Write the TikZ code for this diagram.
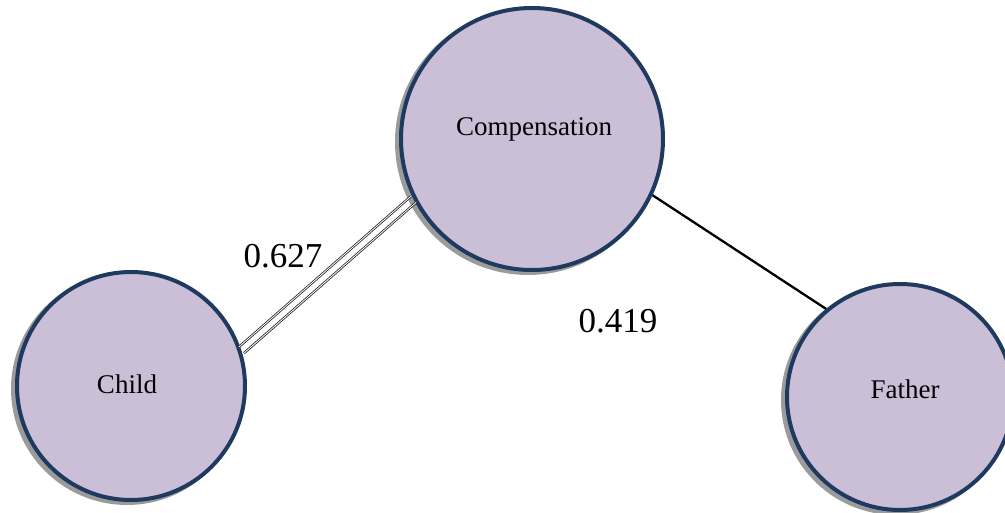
\documentclass[tikz,border=0pt]{standalone}
\usepackage{fontspec}
\setmainfont{Liberation Serif}
\usetikzlibrary{calc}
\definecolor{fillc}{RGB}{203,191,216}
\definecolor{edgec}{RGB}{31,58,95}
\definecolor{shadc}{RGB}{155,155,155}
\begin{document}
\begin{tikzpicture}[x=1pt,y=-1pt,
  var/.style={circle, draw=edgec, line width=4pt, fill=fillc, inner sep=0pt, minimum size=#1},
  shad/.style={circle, fill=shadc, inner sep=0pt, minimum size=#1},
  lbl/.style={font=\fontsize{27}{30}\selectfont, inner sep=0pt},
  num/.style={font=\fontsize{35}{38}\selectfont, inner sep=0pt},
  solidconn/.style={line width=2.3pt, black},
  strip/.style={draw=black!85, line width=0.8pt, double=white, double distance=0.8pt},
]
\useasboundingbox (0,0) rectangle (1005,513);
% shadows
\node[shad=266pt] (compS) at (528,142) {};
\node[shad=232pt] (childS) at (127,389) {};
\node[shad=230pt] (fatherS) at (896,400) {};
% circles
\node[var=262pt] (comp) at (532,139) {};
\node[var=228pt] (child) at (131,386) {};
\node[var=226pt] (father) at (900,397) {};
% texts
\node[lbl] (compT) at (534,129) {Compensation};
\node[lbl] (childT) at (127,384) {Child};
\node[lbl] (fatherT) at (905,389) {Father};
\node[num] (n1) at (283,256) {0.627};
\node[num] (n2) at (618,321) {0.419};
% connectors
\coordinate (a) at (child.18);
\coordinate (b) at (comp.207.5);
\draw[strip] ($(a)!4pt!90:(b)$) -- ($(b)!4pt!-90:(a)$);
\draw[strip] ($(a)!4pt!-90:(b)$) -- ($(b)!4pt!90:(a)$);
\draw[solidconn] (comp.335) -- (father.130);
\end{tikzpicture}
\end{document}
